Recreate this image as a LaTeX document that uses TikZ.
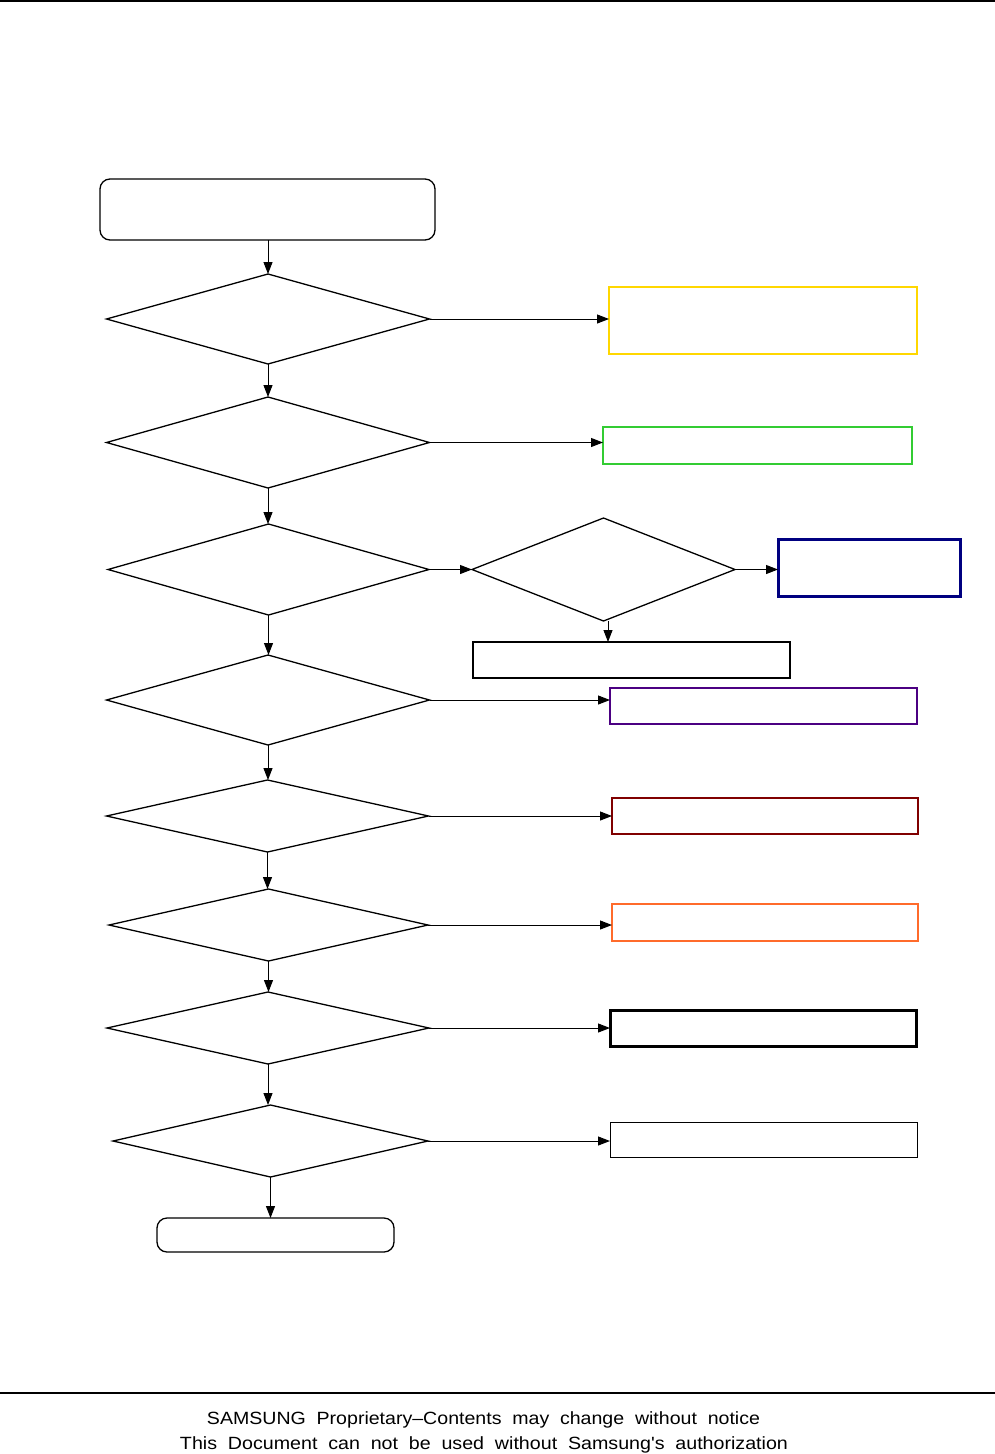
\documentclass[tikz,border=0pt]{standalone}
\usepackage{fontspec}
\setmainfont{Liberation Sans}[Ligatures=NoCommon]
\usetikzlibrary{shapes.geometric,arrows.meta}
\definecolor{cyellow}{HTML}{FFD700}
\definecolor{cgreen}{HTML}{33CC33}
\definecolor{cnavy}{HTML}{000080}
\definecolor{cindigo}{HTML}{4B0082}
\definecolor{cmaroon}{HTML}{800000}
\definecolor{corange}{HTML}{FF6B2B}
\newcommand{\wsp}{\hspace{0.55em}}
\tikzset{
  dec/.style={diamond, draw, line width=1.3pt, inner sep=0pt, outer sep=0pt, minimum width=#1},
  dec/.default=323pt,
  res/.style={rectangle, draw, inner sep=0pt, outer sep=0pt},
  term/.style={rectangle, rounded corners=10pt, draw, line width=1.3pt, inner sep=0pt, outer sep=0pt},
  conn/.style={line width=1pt, -{Triangle[length=12pt,width=9pt]}},
  footer/.style={font=\fontsize{17.7}{20}\selectfont, inner sep=0pt, anchor=base},
}
\begin{document}
\begin{tikzpicture}[x=1pt,y=-1pt]
\useasboundingbox (0,0) rectangle (995,1454);
% rules
\draw[line width=1.5pt] (0,1) -- (995,1);
\draw[line width=1.2pt] (0,1393) -- (995,1393);
% start
\node[term, minimum width=335pt, minimum height=61pt] (start) at (267.5,209.5) {};
% decisions
\node[dec, minimum height=90pt] (d1) at (268,319) {};
\node[dec, minimum height=91pt] (d2) at (268,442.5) {};
\node[dec=321pt, minimum height=91pt] (d3) at (268.5,569.5) {};
\node[dec=263pt, minimum height=103pt] (d3b) at (603.5,569.5) {};
\node[dec, minimum height=90pt] (d4) at (268,700) {};
\node[dec=322pt, minimum height=72pt] (d5) at (267.5,816) {};
\node[dec=319pt, minimum height=72pt] (d6) at (268.5,925) {};
\node[dec=322pt, minimum height=72pt] (d7) at (268,1028) {};
\node[dec=315pt, minimum height=72pt] (d8) at (270.5,1141) {};
% end
\node[term, minimum width=237pt, minimum height=34pt] (stop) at (275.5,1235) {};
% results
\node[res, draw=cyellow, line width=2.5pt, minimum width=308pt, minimum height=67pt] (r1) at (763,320.5) {};
\node[res, draw=cgreen, line width=2.5pt, minimum width=309pt, minimum height=37pt] (r2) at (757.5,445.5) {};
\node[res, draw=cnavy, line width=3pt, minimum width=182pt, minimum height=57pt] (r3) at (869,567.5) {};
\node[res, draw=black, line width=1.5pt, minimum width=317pt, minimum height=36pt] (r3b) at (631.5,660) {};
\node[res, draw=cindigo, line width=2.5pt, minimum width=307pt, minimum height=36pt] (r4) at (763.5,706) {};
\node[res, draw=cmaroon, line width=2.5pt, minimum width=306pt, minimum height=36pt] (r5) at (765,816) {};
\node[res, draw=corange, line width=2.5pt, minimum width=306pt, minimum height=37pt] (r6) at (765,922.5) {};
\node[res, draw=black, line width=3pt, minimum width=306pt, minimum height=36pt] (r7) at (763,1028) {};
\node[res, draw=black, line width=1pt, minimum width=307pt, minimum height=35pt] (r8) at (763.5,1139.5) {};
\coordinate (d3bout) at (608,621);
% vertical connectors
\draw[conn] (start.south -| d1.north) -- (d1.north);
\draw[conn] (d1.south) -- (d1.south |- d2.north);
\draw[conn] (d2.south) -- (d2.south |- d3.north);
\draw[conn] (d3.south) -- (d3.south |- d4.north);
\draw[conn] (d4.south) -- (d4.south |- d5.north);
\draw[conn] (d5.south) -- (d5.south |- d6.north);
\draw[conn] (d6.south) -- (d6.south |- d7.north);
\draw[conn] (d7.south) -- (d7.south |- d8.north);
\draw[conn] (d8.south) -- (d8.south |- stop.north);
\draw[conn] (d3bout) -- (d3bout |- r3b.north);
% horizontal connectors
\draw[conn] (d1.east) -- (d1.east -| r1.west);
\draw[conn] (d2.east) -- (d2.east -| r2.west);
\draw[conn] (d3.east) -- (d3b.west);
\draw[conn] (d3b.east) -- (d3b.east -| r3.west);
\draw[conn] (d4.east) -- (d4.east -| r4.west);
\draw[conn] (d5.east) -- (d5.east -| r5.west);
\draw[conn] (d6.east) -- (d6.east -| r6.west);
\draw[conn] (d7.east) -- (d7.east -| r7.west);
\draw[conn] (d8.east) -- (d8.east -| r8.west);
% footer
\node[footer] (f1) at (483.5,1424.3) {\resizebox{553pt}{\height}{SAMSUNG\wsp Proprietary–Contents\wsp may\wsp change\wsp without\wsp notice}};
\node[footer] (f2) at (484,1449) {\resizebox{608pt}{\height}{This\wsp Document\wsp can\wsp not\wsp be\wsp used\wsp without\wsp Samsung\textquotesingle s\wsp authorization}};
\end{tikzpicture}
\end{document}
